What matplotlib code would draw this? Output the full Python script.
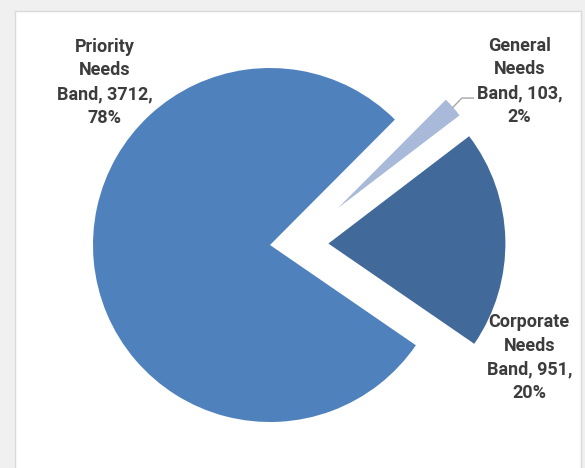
import matplotlib
matplotlib.use("Agg")
import matplotlib.pyplot as plt
from matplotlib.patches import Rectangle
import numpy as np

# band totals
bands = ["Priority Needs Band", "General Needs Band", "Corporate Needs Band"]
counts = [3712, 103, 951]
colors = ["#4F81BD", "#A9B9DA", "#416A9B"]
explode = [0.0, 0.0, 0.33]

# label anchor points (data units, pie radius = 1)
label_pos = [(-0.935, 0.92), (1.41, 0.925), (1.465, -0.635)]

W, H = 585, 468
fig = plt.figure(figsize=(W / 100, H / 100), dpi=100, facecolor="#f0f0f0")

# white chart area with a thin grey frame
fig.patches.append(Rectangle((15 / W, -0.05), 566 / W, 1.05 - 11 / H,
                             transform=fig.transFigure, facecolor="white",
                             edgecolor="#d9d9d9", linewidth=1.0, zorder=-1))

cx, cy, r = 270, 245, 177
ax = fig.add_axes([(cx - r) / W, (H - cy - r) / H, 2 * r / W, 2 * r / H])
ax.set_zorder(1)

wedges, _ = ax.pie(counts, colors=colors, explode=explode, startangle=-34.5,
                   counterclock=False, radius=1.0,
                   wedgeprops=dict(linewidth=0))

# the thin General slice is pulled out further and drawn a bit smaller
gen = wedges[1]
shift, ang = 0.436, np.deg2rad(28.5)
gen.set_center((shift * np.cos(ang), shift * np.sin(ang)))
gen.set_radius(0.865)

ax.set_xlim(-1, 1)
ax.set_ylim(-1, 1)
ax.axis("off")

total = sum(counts)
for name, value, (lx, ly) in zip(bands, counts, label_pos):
    words = name.split()
    pct = round(value / total * 100)
    text = "\n".join(words[:-1]) + f"\n{words[-1]}, {value},\n{pct}%"
    ax.text(lx, ly, text, ha="center", va="center", fontsize=13,
            fontweight="bold", family="Roboto", color="#3c3c3c",
            linespacing=1.40)

# leader line for the General slice
mid = np.deg2rad((gen.theta1 + gen.theta2) / 2)
x0 = gen.center[0] + gen.r * np.cos(mid)
y0 = gen.center[1] + gen.r * np.sin(mid)
ax.plot([x0, x0 + 0.05, x0 + 0.115], [y0, y0 + 0.052, y0 + 0.052],
        color="#a6a6a6", linewidth=1.0, clip_on=False)

fig.savefig("out.png", dpi=100, facecolor=fig.get_facecolor())
